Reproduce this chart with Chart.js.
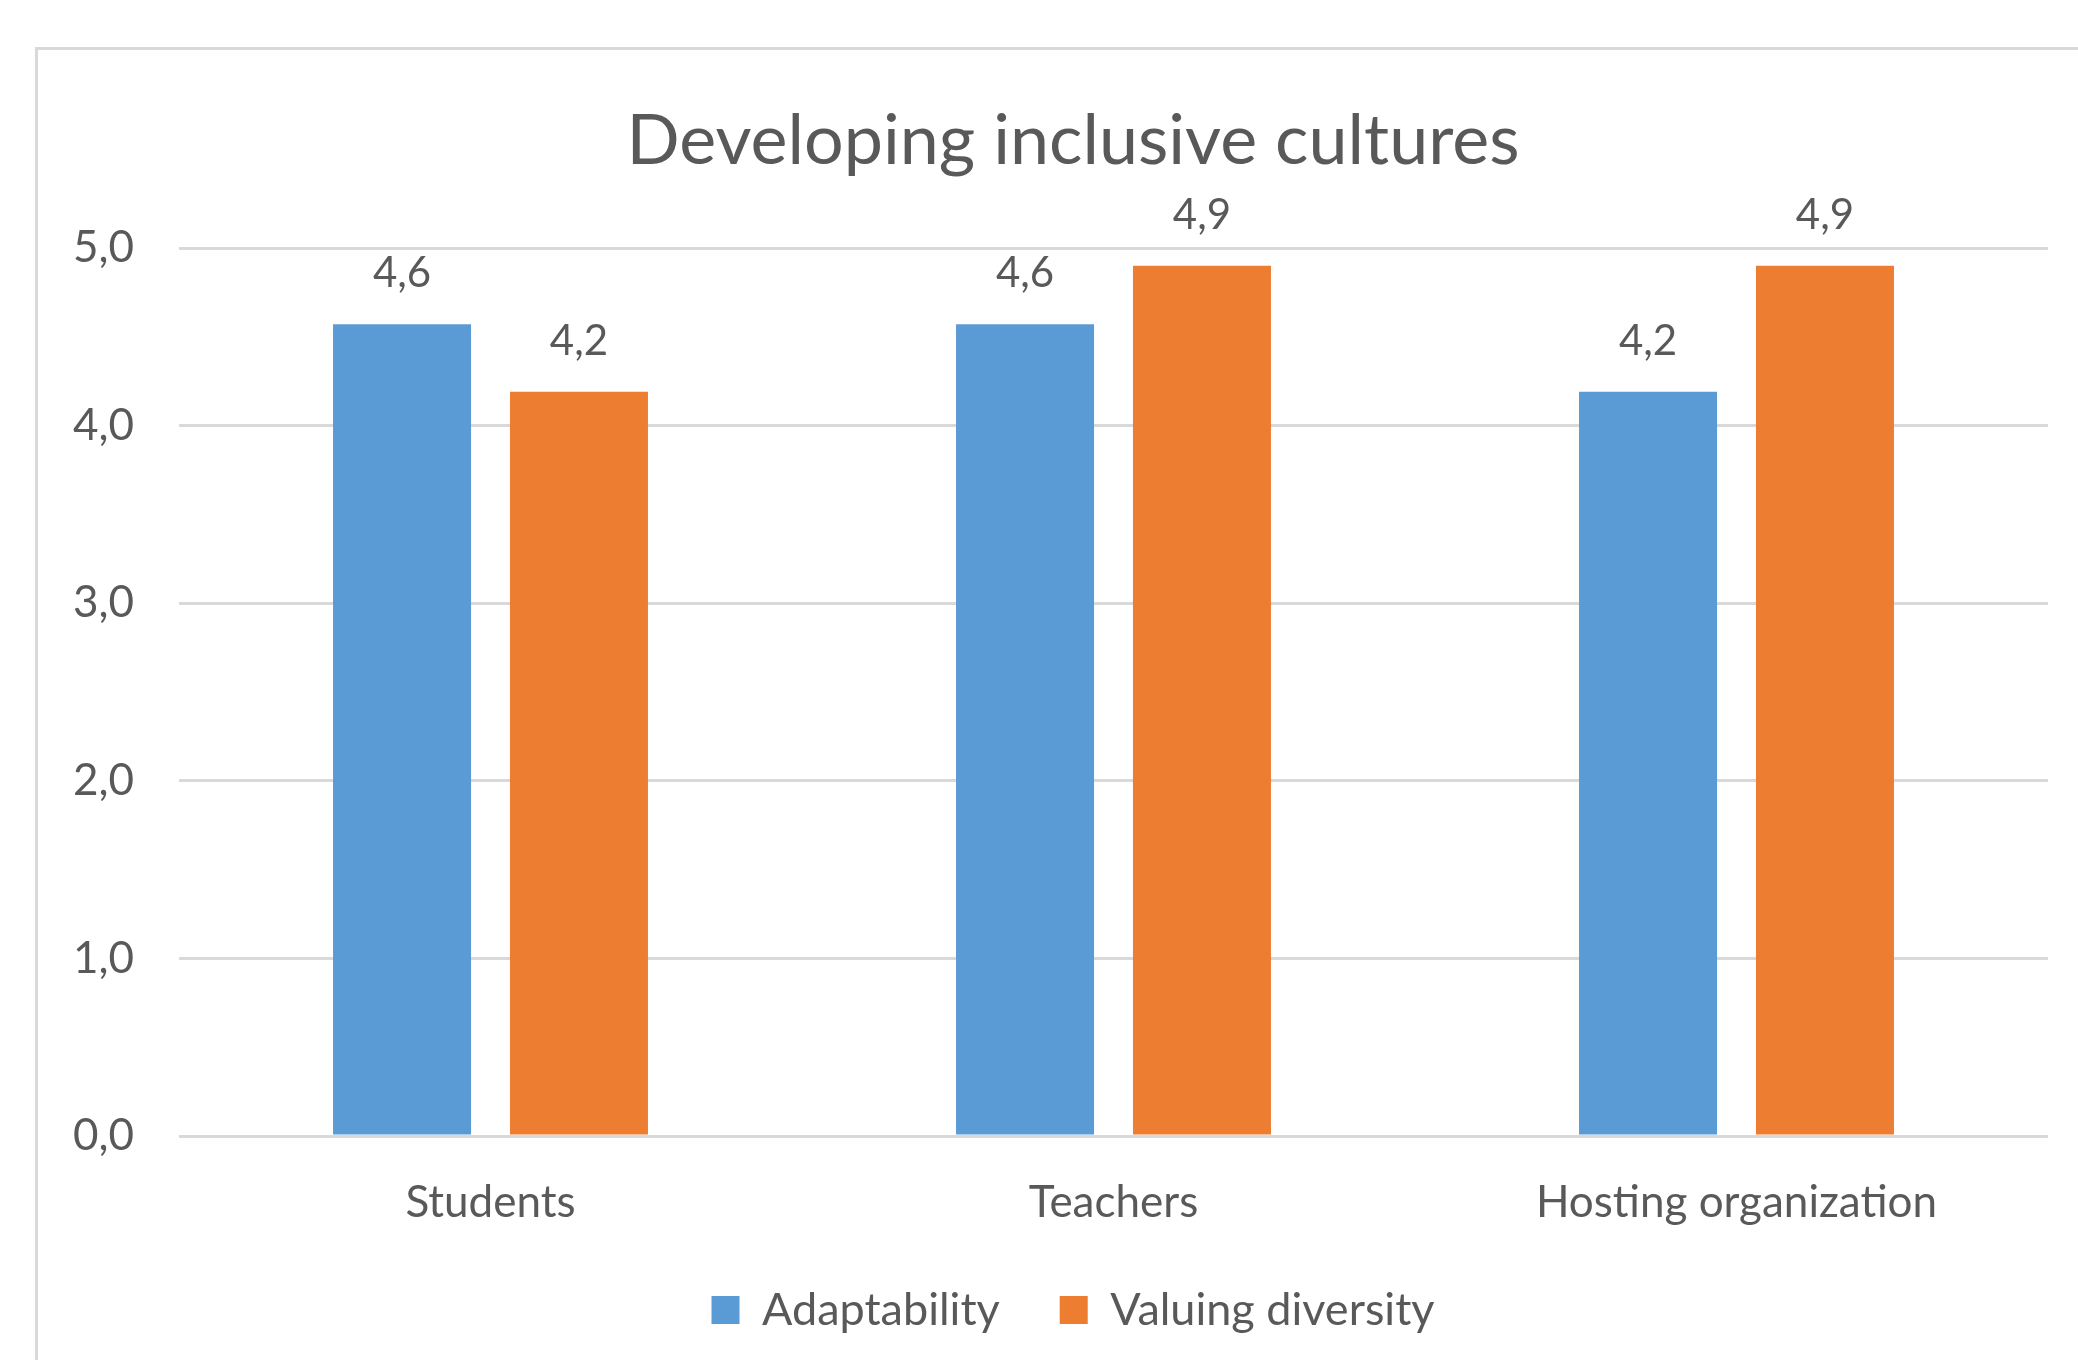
<!DOCTYPE html>
<html>
<head>
<meta charset="utf-8">
<title>Developing inclusive cultures</title>
<script src="https://cdn.jsdelivr.net/npm/chart.js@4/dist/chart.umd.min.js"></script>
<style>
    html, body { margin: 0; padding: 0; background: #ffffff; overflow: hidden; }
    body { width: 2078px; height: 1360px; position: relative; }
    #box {
        position: absolute;
        left: 35px;
        top: 47px;
        width: 2070px;
        height: 1310px;
        border-left: 3px solid #d9d9d9;
        border-top: 3px solid #d9d9d9;
    }
    #chart { display: block; }
</style>
</head>
<body>
<div id="box">
    <canvas id="chart" width="2070" height="1310"></canvas>
</div>
<script>
// chart data
const categories = ['Students', 'Teachers', 'Hosting organization'];
const seriesNames = ['Adaptability', 'Valuing diversity'];
const adaptability = [4.57, 4.57, 4.19];
const valuingDiversity = [4.19, 4.9, 4.9];
const yTicks = [0, 1, 2, 3, 4, 5];

const TEXT = '#595959';
const GRID = '#d9d9d9';
const FONT = 'Lato, "Open Sans", sans-serif';

function fmt(v) {
    return v.toFixed(1).replace('.', ',');
}

// value labels above each bar
const barLabels = {
    id: 'barLabels',
    afterDatasetsDraw(chart) {
        const ctx = chart.ctx;
        ctx.save();
        ctx.font = `42px ${FONT}`;
        ctx.fillStyle = TEXT;
        ctx.textAlign = 'center';
        ctx.textBaseline = 'alphabetic';
        chart.data.datasets.forEach((ds, i) => {
            chart.getDatasetMeta(i).data.forEach((bar, j) => {
                ctx.fillText(fmt(ds.data[j]), bar.x, bar.y - 37);
            });
        });
        ctx.restore();
    }
};

new Chart(document.getElementById('chart'), {
    type: 'bar',
    data: {
        labels: categories,
        datasets: [
            {
                label: seriesNames[0],
                data: adaptability,
                backgroundColor: '#5b9bd5',
                borderWidth: 0
            },
            {
                label: seriesNames[1],
                data: valuingDiversity,
                backgroundColor: '#ed7d31',
                borderWidth: 0
            }
        ]
    },
    options: {
        responsive: false,
        animation: false,
        categoryPercentage: 0.568,
        barPercentage: 0.78,
        layout: { padding: { left: 0, right: 0, top: 0, bottom: 17.5 } },
        scales: {
            x: {
                grid: { display: false, drawTicks: false },
                border: { display: false },
                afterFit(scale) { scale.height = 91.5; },
                ticks: {
                    color: TEXT,
                    font: { family: FONT, size: 44 },
                    padding: 40
                }
            },
            y: {
                min: 0,
                max: 5,
                afterBuildTicks(scale) {
                    scale.ticks = yTicks.map(v => ({ value: v }));
                },
                afterFit(scale) { scale.width = 141; },
                grid: { color: GRID, lineWidth: 3, drawTicks: false },
                border: { display: false },
                ticks: {
                    color: TEXT,
                    font: { family: FONT, size: 44 },
                    padding: 45,
                    callback: v => fmt(v)
                }
            },
            // empty right-hand spacer so the chart area stops short of the edge
            spacer: {
                type: 'linear',
                position: 'right',
                grid: { display: false },
                border: { display: false },
                ticks: { display: false },
                afterFit(scale) { scale.width = 60; }
            }
        },
        plugins: {
            title: {
                display: true,
                text: 'Developing inclusive cultures',
                color: TEXT,
                font: { family: FONT, size: 70, weight: 'normal' },
                padding: { top: 49, bottom: 65 }
            },
            legend: {
                position: 'bottom',
                labels: {
                    color: TEXT,
                    font: { family: FONT, size: 45 },
                    boxWidth: 28,
                    boxHeight: 28,
                    padding: 60
                }
            },
            tooltip: { enabled: false }
        }
    },
    plugins: [barLabels]
});
</script>
</body>
</html>
